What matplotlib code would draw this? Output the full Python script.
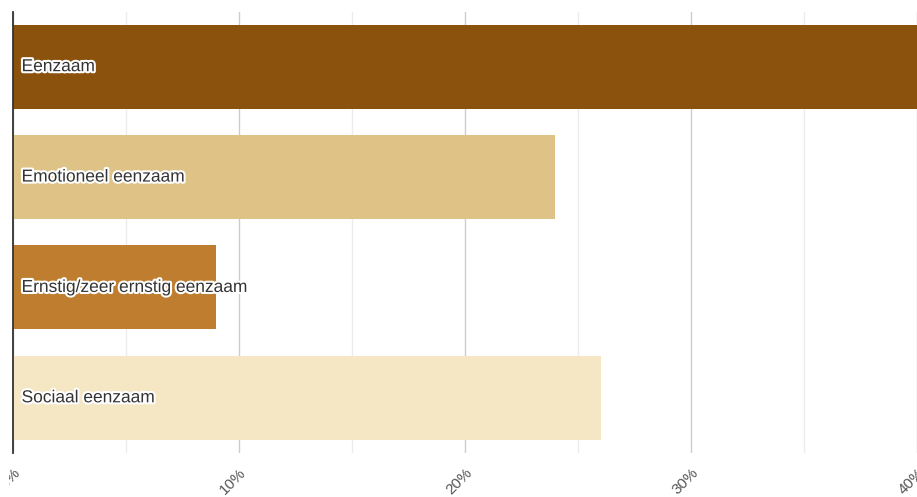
import matplotlib
matplotlib.use("Agg")
import matplotlib.pyplot as plt
import matplotlib.patheffects as pe
from matplotlib.transforms import Bbox

categories = ["Eenzaam", "Emotioneel eenzaam", "Ernstig/zeer ernstig eenzaam", "Sociaal eenzaam"]
values = [40, 24, 9, 26]
colors = ["#8B520D", "#DFC386", "#BF7E2F", "#F5E6C4"]
major_ticks = [0, 10, 20, 30, 40]
tick_labels = ["0%", "10%", "20%", "30%", "40%"]
minor_ticks = [5, 15, 25, 35]

W, H = 917, 497
fig = plt.figure(figsize=(W / 100, H / 100), dpi=100)
left, right, top, bottom = 13, 917, 11.5, 453
ax = fig.add_axes([left / W, 1 - bottom / H, (right - left) / W, (bottom - top) / H])

y = list(range(len(categories)))
ax.barh(y, values, height=0.76, color=colors, zorder=2)
ax.set_ylim(len(categories) - 0.5, -0.5)
ax.set_xlim(0, 40)

ax.set_xticks(major_ticks)
ax.set_xticklabels(tick_labels, rotation=45, ha="right", va="top",
                   rotation_mode="anchor", fontsize=11, color="#555555",
                   family="Liberation Sans")
ax.set_xticks(minor_ticks, minor=True)
ax.tick_params(axis="x", which="both", length=0, pad=9)
# the first label is cut by the left border in the original view
first = ax.get_xticklabels()[0]
first.set_clip_box(Bbox([[9, 0], [W, H]]))
first.set_clip_on(True)
ax.set_yticks([])
ax.grid(axis="x", which="major", color="#cccccc", linewidth=1, zorder=0)
ax.grid(axis="x", which="minor", color="#ececec", linewidth=1, zorder=0)
ax.set_axisbelow(True)
for s in ["top", "right", "bottom"]:
    ax.spines[s].set_visible(False)
ax.spines["left"].set_color("#333333")
ax.spines["left"].set_linewidth(1.3)

for yi, cat in zip(y, categories):
    ax.text(0.38, yi, cat, va="center", ha="left", fontsize=12.5, color="#333333",
            family="Liberation Sans", zorder=3,
            path_effects=[pe.withStroke(linewidth=3, foreground="white")])

fig.savefig("out.png", dpi=100)
